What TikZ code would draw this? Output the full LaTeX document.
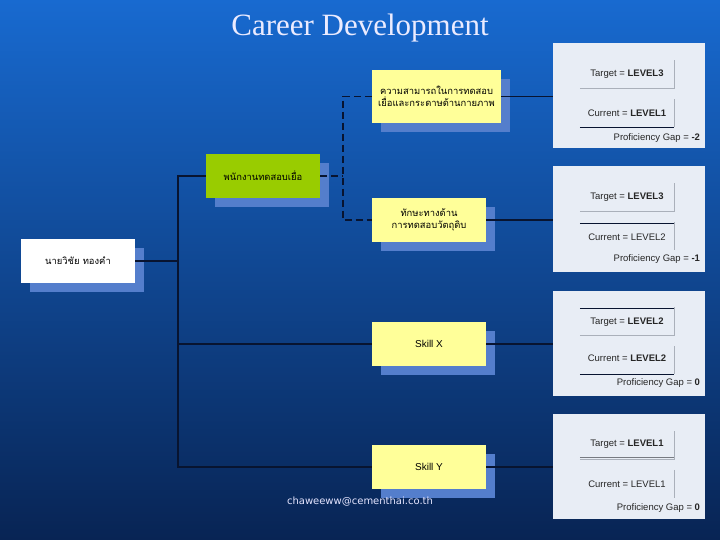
\documentclass[tikz,border=0pt]{standalone}
\usepackage{fontspec}
\setmainfont{Liberation Sans}
\newfontfamily\thaifont[Script=Thai]{Loma}
\newfontfamily\titlefont{Liberation Serif}
\newfontfamily\mailfont{DejaVu Sans}
\usetikzlibrary{calc, shadows}

\definecolor{bgtop}{RGB}{24,106,208}
\definecolor{bgmid}{RGB}{12,76,162}
\definecolor{bgbot}{RGB}{8,36,84}
\definecolor{shadowblue}{RGB}{84,126,204}
\definecolor{boxyellow}{RGB}{255,255,153}
\definecolor{boxgreen}{RGB}{153,204,0}
\definecolor{panelgray}{RGB}{232,237,245}
\definecolor{linenavy}{RGB}{8,20,48}
\definecolor{celledge}{RGB}{170,176,186}

\begin{document}
\begin{tikzpicture}[x=1pt, y=-1pt,
    card/.style={minimum width=114pt, minimum height=44pt, inner sep=0pt,
        align=center, font=\thaifont\fontsize{9.4}{12}\selectfont,
        drop shadow={shadow xshift=9pt, shadow yshift=-9pt,
        fill=shadowblue, opacity=1}},
    panel/.style={fill=panelgray, minimum width=152pt, minimum height=105pt,
        inner sep=0pt},
    lvl/.style={font=\fontsize{9.5}{11}\selectfont, text=black!85, inner sep=0pt},
    link/.style={draw=linenavy, line width=1.3pt}]

    % background
    \shade[top color=bgtop, middle color=bgmid, bottom color=bgbot]
        (0,0) rectangle (720,540);
    \useasboundingbox (0,0) rectangle (720,540);

    \node[text=white!92!blue, font=\titlefont\fontsize{31}{33}\selectfont]
        (title) at (360,28) {Career Development};

    % boxes
    \node[card, fill=white] (person) at (78,261) {นายวิชัย  ทองคำ};
    \node[card, fill=boxgreen] (tester) at (263,176) {พนักงานทดสอบเยื่อ};
    \node[card, fill=boxyellow, minimum width=129pt, minimum height=53pt]
        (skillA) at (436.5,96.5) {ความสามารถในการทดสอบ\\เยื่อและกระดาษด้านกายภาพ};
    \node[card, fill=boxyellow] (skillB) at (429,220) {ทักษะทางด้าน\\การทดสอบวัตถุดิบ};
    \node[card, fill=boxyellow, font=\fontsize{10}{12}\selectfont]
        (skillX) at (429,344) {Skill X};
    \node[card, fill=boxyellow, font=\fontsize{10}{12}\selectfont]
        (skillY) at (429,467) {Skill Y};

    % panels
    \node[panel] (p1) at (629,96) {};
    \node[panel] (p2) at (629,219) {};
    \node[panel] (p3) at (629,343) {};
    \node[panel] (p4) at (629,466.5) {};

    \foreach \p in {p1,p2,p3,p4} {
        \draw[celledge, line width=0.6pt]
            ($(\p.north west)+(27,45)$) -- ($(\p.north west)+(121,45)$)
            -- ($(\p.north west)+(121,17)$);
        \draw[celledge, line width=0.6pt]
            ($(\p.north west)+(121,56)$) -- ($(\p.north west)+(121,84)$);
    }
    \draw[linenavy, line width=0.8pt] ($(p1.north west)+(27,84)$) -- ($(p1.north west)+(121,84)$);
    \draw[linenavy, line width=0.8pt] ($(p2.north west)+(27,57)$) -- ($(p2.north west)+(121,57)$);
    \draw[linenavy, line width=0.8pt] ($(p3.north west)+(27,18)$) -- ($(p3.north west)+(121,18)$);
    \draw[linenavy, line width=0.8pt] ($(p3.north west)+(27,84)$) -- ($(p3.north west)+(121,84)$);
    \draw[celledge!70!black, line width=0.8pt] ($(p4.north west)+(27,44)$) -- ($(p4.north west)+(121,44)$);

    \node[lvl] (t1) at ($(p1.north)+(-2,31)$) {Target = \textbf{LEVEL3}};
    \node[lvl] (c1) at ($(p1.north)+(-2,70)$) {Current = \textbf{LEVEL1}};
    \node[lvl, anchor=east] (g1) at ($(p1.north east)+(-5,95)$) {Proficiency Gap = \textbf{-2}};
    \node[lvl] (t2) at ($(p2.north)+(-2,31)$) {Target = \textbf{LEVEL3}};
    \node[lvl] (c2) at ($(p2.north)+(-2,71)$) {Current = LEVEL2};
    \node[lvl, anchor=east] (g2) at ($(p2.north east)+(-5,93)$) {Proficiency Gap = \textbf{-1}};
    \node[lvl] (t3) at ($(p3.north)+(-2,32)$) {Target = \textbf{LEVEL2}};
    \node[lvl] (c3) at ($(p3.north)+(-2,68)$) {Current = \textbf{LEVEL2}};
    \node[lvl, anchor=east] (g3) at ($(p3.north east)+(-5,93)$) {Proficiency Gap = \textbf{0}};
    \node[lvl] (t4) at ($(p4.north)+(-2,30)$) {Target = \textbf{LEVEL1}};
    \node[lvl] (c4) at ($(p4.north)+(-2,70)$) {Current = LEVEL1};
    \node[lvl, anchor=east] (g4) at ($(p4.north east)+(-5,94)$) {Proficiency Gap = \textbf{0}};

    % connectors
    \coordinate (trunk) at (178,0);
    \coordinate (bus) at (343,0);
    \draw[link] (tester.west) -- (tester.west -| trunk)
        -- (skillY.west -| trunk) -- (skillY.west);
    \draw[link] (skillX.west -| trunk) -- (skillX.west);
    \draw[link] (person.east) -- (person.east -| trunk);
    \draw[link, dash pattern=on 7pt off 4pt] (tester.east) -- (tester.east -| bus);
    \draw[link, dash pattern=on 7pt off 4pt] (skillA.west) -- (skillA.west -| bus)
        -- (skillB.west -| bus) -- (skillB.west);
    \draw[link] (skillA.east) -- (skillA.east -| p1.west);
    \draw[link] (skillB.east) -- (skillB.east -| p2.west);
    \draw[link] (skillX.east) -- (skillX.east -| p3.west);
    \draw[link] (skillY.east) -- (skillY.east -| p4.west);

    \node[text=white!90!blue, font=\mailfont\fontsize{10}{12}\selectfont]
        (mail) at (360,502) {chaweeww@cementhai.co.th};
\end{tikzpicture}
\end{document}
